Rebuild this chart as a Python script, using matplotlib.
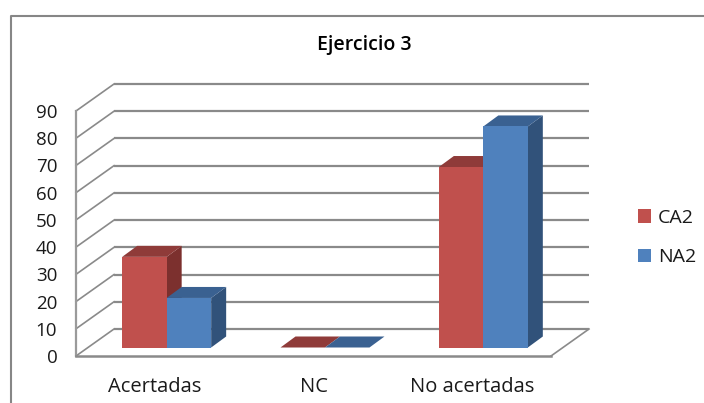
import matplotlib
matplotlib.use("Agg")
import matplotlib.pyplot as plt
from matplotlib.patches import Patch, Polygon
from matplotlib.transforms import Affine2D

categories = ["Acertadas", "NC", "No acertadas"]
ca2 = [33.3, 0, 66.3]
na2 = [18.2, 0, 81.2]
series_names = ["CA2", "NA2"]
y_ticks = list(range(0, 100, 10))

RED = ("#C0504D", "#8F3B39", "#7C302E")
BLUE = ("#4F81BD", "#3A6191", "#31527A")
GRID = "#8A8A8A"
TEXT = "#1A1A1A"
FONT = ["Open Sans", "DejaVu Sans"]

W, H = 704, 403
fig = plt.figure(figsize=(W / 100, H / 100), dpi=100, facecolor="white")

# Axes frame is the front plane of the 3D box; depth is a pixel offset from it.
left, right, bottom, top = 76, 551, 356, 111
ax = fig.add_axes([left / W, 1 - bottom / H, (right - left) / W, (bottom - top) / H])
ax.set_xlim(0, 3)
ax.set_ylim(0, 90)
ax.patch.set_visible(False)
for s in ax.spines.values():
    s.set_visible(False)


def depth(dx, dy):
    """Data transform shifted into the box by dx, dy pixels (dy up)."""
    return ax.transData + Affine2D().translate(dx, dy)


BACK = (38, 27)
for v in y_ticks:
    ax.plot([0, 3], [v, v], transform=depth(*BACK), color=GRID, lw=1.6, zorder=1,
            clip_on=False, solid_capstyle="butt")
    # Side wall rung from the front plane to the back wall
    x0, y0 = ax.transData.transform((0, v))
    ax.plot([x0, x0 + BACK[0]], [y0, y0 + BACK[1]], transform=None, color=GRID,
            lw=1.2, zorder=1, clip_on=False)

# Front wall edge, floor front and floor right edge
ax.plot([0, 0], [0, 90], color="#9A9A9A", lw=1.6, zorder=2, clip_on=False)
ax.plot([0, 3], [0, 0], color=GRID, lw=1.8, zorder=2, clip_on=False)
xr, yr = ax.transData.transform((3, 0))
ax.plot([xr, xr + BACK[0]], [yr, yr + BACK[1]], transform=None, color=GRID,
        lw=1.2, zorder=2, clip_on=False)

BAR_W = 0.281
NEAR = (11.5, 8.5)
FAR = (26.5, 19.5)


def bar3d(x0, value, colors, z):
    x1 = x0 + BAR_W
    near, far = depth(*NEAR), depth(*FAR)

    def to_px(tr, pts):
        return [tr.transform(p) for p in pts]

    faces = [(to_px(near, [(x0, value), (x1, value)]) + to_px(far, [(x1, value), (x0, value)]),
              colors[1])]
    if value > 0:
        faces.insert(0, (to_px(near, [(x1, 0), (x1, value)]) + to_px(far, [(x1, value), (x1, 0)]),
                         colors[2]))
        faces.append((to_px(near, [(x0, 0), (x1, 0), (x1, value), (x0, value)]), colors[0]))
    for pts, col in faces:
        ax.add_patch(Polygon(pts, closed=True, transform=None, facecolor=col,
                             edgecolor="none", zorder=z, clip_on=False))


for i in range(len(categories)):
    centre = i + 0.5
    bar3d(centre - BAR_W, ca2[i], RED, 3 + i * 2)
    bar3d(centre, na2[i], BLUE, 4 + i * 2)

ax.set_yticks(y_ticks)
ax.set_xticks([i + 0.5 for i in range(len(categories))])
ax.set_xticklabels(categories, fontsize=14.5, family=FONT, color=TEXT)
ax.tick_params(axis="both", length=0)
ax.tick_params(axis="y", pad=13.5, labelsize=13.5, labelcolor=TEXT)
ax.tick_params(axis="x", pad=15)
for t in ax.get_yticklabels():
    t.set_family(FONT)

# Chart title
fig.text(364 / W, 1 - 45 / H, "Ejercicio 3", ha="center", va="center",
         fontsize=14, family=FONT, fontweight="semibold", color="black")

# Outer chart border: only its top and left edges fall inside the image
fig.add_artist(plt.Line2D([10.5 / W, 10.5 / W, 1], [0, 1 - 15.5 / H, 1 - 15.5 / H],
                          color="#868686", lw=1.5, transform=fig.transFigure))

handles = [Patch(facecolor=RED[0], label=series_names[0]),
           Patch(facecolor=BLUE[0], label=series_names[1])]
fig.legend(handles=handles, loc="center left", bbox_to_anchor=(632 / W, 1 - 237.5 / H),
           frameon=False, handlelength=0.67, handleheight=0.67, handletextpad=0.36,
           labelspacing=1.1, prop={"family": FONT, "size": 14}, labelcolor=TEXT,
           borderpad=0, borderaxespad=0.3)

fig.savefig("out.png", dpi=100, facecolor="white")
